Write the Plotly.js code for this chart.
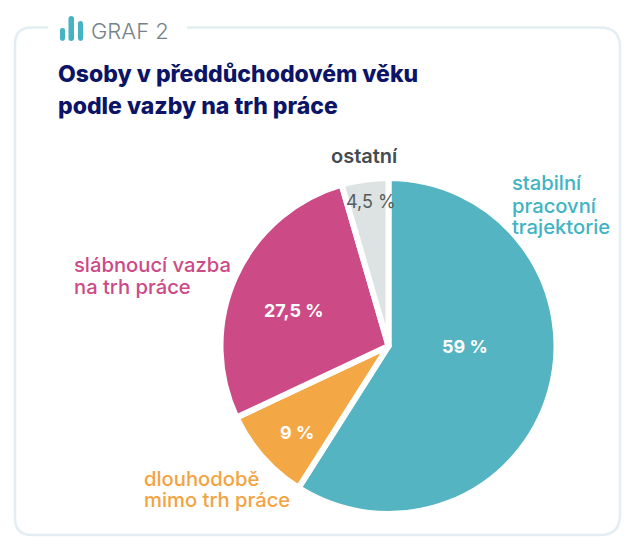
<!DOCTYPE html>
<html><head><meta charset="utf-8">
<script src="https://cdn.plot.ly/plotly-3.0.0.min.js"></script>
<style>html,body{margin:0;padding:0;background:#fff}#c{width:642px;height:560px}</style></head>
<body><div id="c"></div>
<script>
const categories = ['stabilní pracovní trajektorie','dlouhodobě mimo trh práce','slábnoucí vazba na trh práce','ostatní'];
const values = [59, 9, 27.5, 4.5];
const valueLabels = ['59 %','9 %','27,5 %','4,5 %'];
const colors = ['#55b4c2','#f3a845','#cc4a86','#dde2e2'];
const W = 642, H = 560;
const X = v => v / W, Y = v => 1 - v / H;
const P = (x, y) => X(x).toFixed(5) + ',' + Y(y).toFixed(5);
const F = 'Inter, "Noto Sans", sans-serif';
const border = '#e2eef2';
const card = `M ${P(48,27.5)} L ${P(32,27.5)} Q ${P(15,27.5)} ${P(15,44)} L ${P(15,518)} Q ${P(15,535)} ${P(32,535)} L ${P(600,535)} Q ${P(620,535)} ${P(620,515)} L ${P(620,47)} Q ${P(620,27.5)} ${P(600,27.5)} L ${P(187,27.5)}`;
const bar = (x0, x1, y0, y1) => {
  const r = (x1 - x0) / 2, m = x0 + r;
  return {type:'path',xref:'paper',yref:'paper',fillcolor:'#45b3c4',line:{width:0},
    path:`M ${P(x0,y0+r)} Q ${P(x0,y0)} ${P(m,y0)} Q ${P(x1,y0)} ${P(x1,y0+r)} L ${P(x1,y1-r)} Q ${P(x1,y1)} ${P(m,y1)} Q ${P(x0,y1)} ${P(x0,y1-r)} Z`};
};
const note = (text, x, y, color, size, weight, anchor) => ({
  text, x:X(x), y:Y(y), xref:'paper', yref:'paper', showarrow:false, xanchor:anchor||'left', yanchor:'middle', align:anchor||'left',
  font:{family:F,size,color,weight:weight||500}
});
const annotations = [
  note('GRAF 2',89,31,'#75828a',22,300),
  note('Osoby v předdůchodovém věku',56,74,'#0b1466',23,800),
  note('podle vazby na trh práce',56,106,'#0b1466',23,800),
  note('stabilní',510,183,'#40b3c4',20.2,500),
  note('pracovní',510,205,'#40b3c4',20.2,500),
  note('trajektorie',510,226,'#40b3c4',20.2,500),
  note('slábnoucí vazba',72,264,'#cc4a86',20.2,500),
  note('na trh práce',72,286,'#cc4a86',20.2,500),
  note('ostatní',329,156,'#444c52',20,600),
  note('dlouhodobě',142,478,'#f3a340',20.2,500),
  note('mimo trh práce',142,499,'#f3a340',20.2,500),
  note(valueLabels[0],464.5,346,'#ffffff',18,700,'center'),
  note(valueLabels[1],297,432,'#ffffff',18,700,'center'),
  note(valueLabels[2],293.5,310,'#ffffff',18,700,'center'),
  note(valueLabels[3],371,201,'#555c60',18,400,'center')
];
Plotly.newPlot('c',[{
  type:'pie', labels:categories, values, sort:false, direction:'clockwise', rotation:0,
  marker:{colors, line:{color:'#ffffff',width:6}},
  textinfo:'none', hoverinfo:'label+value', showlegend:false,
  domain:{x:[X(388.5-168),X(388.5+168)], y:[Y(346+168),Y(346-168)]}
}],{
  width:W, height:H, margin:{l:0,r:0,t:0,b:0,pad:0}, paper_bgcolor:'#fff', showlegend:false,
  shapes:[
    {type:'path',xref:'paper',yref:'paper',path:card,line:{color:border,width:2.5}},
    bar(60,65,28,41), bar(68.5,74,16,41), bar(78,83,21,41)
  ],
  annotations
},{displayModeBar:false});
</script></body></html>
